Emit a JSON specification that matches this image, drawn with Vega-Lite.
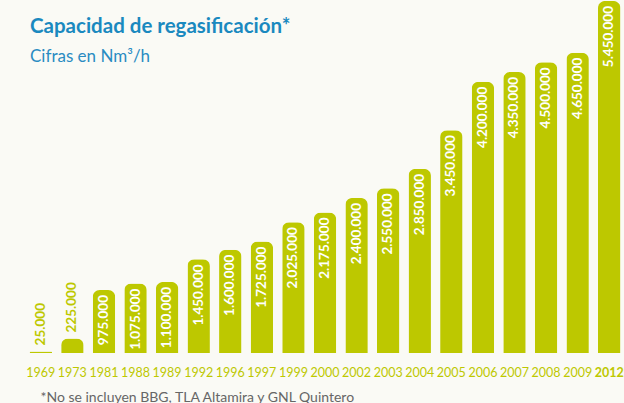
{
  "$schema": "https://vega.github.io/schema/vega-lite/v6.json",
  "width": 600,
  "height": 353,
  "autosize": {"type": "none"},
  "padding": {"left": 25, "top": 0, "right": 0, "bottom": 50},
  "background": "#FAFAF5",
  "title": {
    "text": "Capacidad de regasificación*",
    "subtitle": "Cifras en Nm³/h",
    "anchor": "start",
    "frame": "group",
    "orient": "top",
    "offset": 0,
    "dx": 5,
    "dy": 65,
    "font": "Lato",
    "fontSize": 20.5,
    "fontWeight": "bold",
    "color": "#1A89BF",
    "subtitleFont": "Lato",
    "subtitleFontSize": 17,
    "subtitleColor": "#2A8CC2",
    "subtitlePadding": 12
  },
  "data": {
    "values": [
      {"year": "1969", "value": 25000},
      {"year": "1973", "value": 225000},
      {"year": "1981", "value": 975000},
      {"year": "1988", "value": 1075000},
      {"year": "1989", "value": 1100000},
      {"year": "1992", "value": 1450000},
      {"year": "1996", "value": 1600000},
      {"year": "1997", "value": 1725000},
      {"year": "1999", "value": 2025000},
      {"year": "2000", "value": 2175000},
      {"year": "2002", "value": 2400000},
      {"year": "2003", "value": 2550000},
      {"year": "2004", "value": 2850000},
      {"year": "2005", "value": 3450000},
      {"year": "2006", "value": 4200000},
      {"year": "2007", "value": 4350000},
      {"year": "2008", "value": 4500000},
      {"year": "2009", "value": 4650000},
      {"year": "2012", "value": 5450000}
    ]
  },
  "encoding": {
    "x": {
      "field": "year",
      "type": "ordinal",
      "sort": null,
      "scale": {"paddingInner": 0.29, "paddingOuter": 0.145},
      "axis": {
        "domain": false,
        "ticks": false,
        "labelAngle": 0,
        "labelColor": "#BDC800",
        "labelFont": "Lato",
        "labelFontSize": 12.5,
        "labelPadding": 13,
        "labelFontWeight": {"condition": {"test": "datum.value == '2012'", "value": "bold"}, "value": "normal"},
        "title": "*No se incluyen BBG, TLA Altamira y GNL Quintero",
        "titleFont": "Lato",
        "titleFontWeight": "normal",
        "titleFontSize": 14,
        "titleColor": "#666666",
        "titleAnchor": "start",
        "titleAlign": "left",
        "titleX": 15,
        "titleY": 48,
        "titleBaseline": "alphabetic"
      }
    },
    "y": {
      "field": "value",
      "type": "quantitative",
      "scale": {"domain": [0, 5465000], "nice": false},
      "axis": null
    }
  },
  "layer": [
    {
      "mark": {"type": "bar", "color": "#BDC800", "cornerRadiusTopLeft": 7, "cornerRadiusTopRight": 7}
    },
    {
      "transform": [{"filter": "datum.value >= 500000"}],
      "mark": {"type": "text", "angle": 270, "align": "right", "baseline": "middle", "dx": -5, "color": "white", "font": "Lato", "fontSize": 13.5, "fontWeight": "bold"},
      "encoding": {"text": {"field": "value", "type": "quantitative", "format": ",.0f"}}
    },
    {
      "transform": [{"filter": "datum.value < 500000"}],
      "mark": {"type": "text", "angle": 270, "align": "left", "baseline": "middle", "dx": 6, "color": "#BDC800", "font": "Lato", "fontSize": 13.5, "fontWeight": "bold"},
      "encoding": {"text": {"field": "value", "type": "quantitative", "format": ",.0f"}}
    }
  ],
  "config": {
    "locale": {"number": {"decimal": ",", "thousands": ".", "grouping": [3], "currency": ["", "€"]}},
    "view": {"stroke": null}
  }
}
